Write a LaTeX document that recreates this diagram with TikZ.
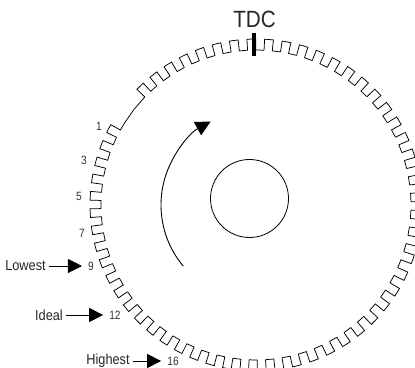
\documentclass[tikz,border=0pt]{standalone}
\usepackage{fontspec}
\setmainfont{Liberation Sans}
\usetikzlibrary{arrows.meta}
\tikzset{
  wheel/.style={line width=0.75pt, line join=miter},
  tooth label/.style={font=\fontsize{12}{12}\selectfont, text=black!80, inner sep=0pt, xscale=0.85},
  pointer label/.style={font=\fontsize{14.5}{14.5}\selectfont, text=black!85, inner sep=0pt, xscale=0.88},
  pointer/.style={line width=0.8pt, -{Triangle[length=14pt,width=14pt]}, shorten >=6pt, shorten <=3pt},
  declare function={wang(\t)=85.5-6.1017*\t-2.65*((1-cos(85.5-6.1017*\t-95))/2)^3;}
}
\begin{document}
\begin{tikzpicture}[x=1pt,y=1pt]
\useasboundingbox (0,0) rectangle (415,367);
\clip (0,0) rectangle (415,367);
% toothed wheel, teeth 49 and 50 left out
\def\rin{155pt}
\def\rout{166pt}
\begin{scope}[shift={(256,162)}]
\foreach \i in {0,...,58} {
  \ifnum\i=49
    \draw[wheel] ({wang(\i-.25)}:\rin) -- ({wang(\i+.75)}:\rin);
  \else\ifnum\i=50
    \draw[wheel] ({wang(\i-.25)}:\rin) -- ({wang(\i+.75)}:\rin);
  \else
    \draw[wheel] ({wang(\i-.25)}:\rin) -- ({wang(\i-.25)}:\rout) -- ({wang(\i)}:\rout) -- ({wang(\i+.25)}:\rout) -- ({wang(\i+.25)}:\rin) -- ({wang(\i+.75)}:\rin);
  \fi\fi
}
% rotation arrow
\draw[line width=0.9pt, -{Triangle[length=15pt,width=15pt]}] (220:95pt) arc (220:118.5:95pt);
\end{scope}
\draw[line width=0.8pt] (249.5,168.5) circle (39pt);
% TDC mark
\node[font=\fontsize{23.5}{23.5}\selectfont, text=black!85, inner sep=0pt, xscale=0.88] (tdc) at (254.5,347.5) {TDC};
\draw[line width=4pt] (254,334) -- (254,311);
% tooth numbers
\node[tooth label] (n1) at (99,241) {1};
\node[tooth label] (n3) at (84,207) {3};
\node[tooth label] (n5) at (79,171) {5};
\node[tooth label] (n7) at (82,134) {7};
\node[tooth label] (n9) at (91,101) {9};
\node[tooth label] (n12) at (115,52) {12};
\node[tooth label] (n16) at (173,6) {16};
% timing limits
\node[pointer label] (lowest) at (25.5,101) {Lowest};
\node[pointer label] (ideal) at (49,52) {Ideal};
\node[pointer label] (highest) at (108,6) {Highest};
\draw[pointer] (lowest.east) -- (n9.west);
\draw[pointer] (ideal.east) -- (n12.west);
\draw[pointer] (highest.east) -- (n16.west);
\end{tikzpicture}
\end{document}
